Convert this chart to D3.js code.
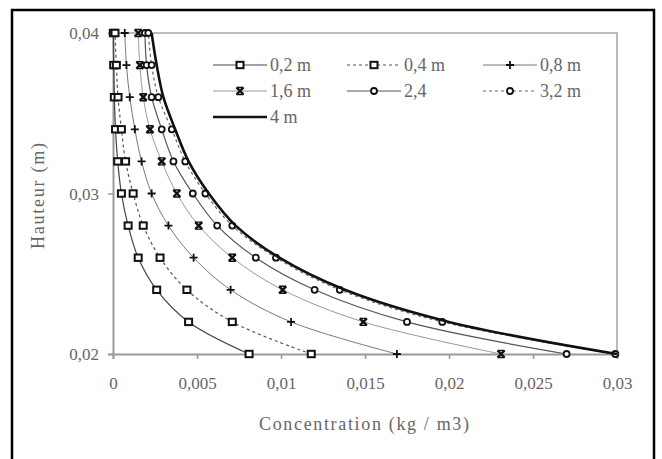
<!DOCTYPE html>
<html>
<head>
<meta charset="utf-8">
<script src="https://cdn.jsdelivr.net/npm/d3@7"></script>
<style>
  html, body { margin: 0; padding: 0; background: #fff; }
  svg { display: block; }
  text { font-family: "Liberation Serif", "Times New Roman", serif; fill: #666; }
</style>
</head>
<body>
<svg id="chart" width="662" height="459"></svg>
<script>
// Heights (m) at which the concentration profiles are sampled
const heights = [0.02, 0.022, 0.024, 0.026, 0.028, 0.030, 0.032, 0.034, 0.036, 0.038, 0.040];

// Concentration (kg/m3) per distance
const c02 = [0.0081, 0.0045, 0.0026, 0.0015, 0.0009, 0.0005, 0.00028, 0.00015, 0.00008, 0.00004, 0.00002];
const c04 = [0.0118, 0.0071, 0.0044, 0.0028, 0.0018, 0.0012, 0.00075, 0.0005, 0.0003, 0.0002, 0.00012];
const c08 = [0.0169, 0.0106, 0.0070, 0.0048, 0.0033, 0.0023, 0.0017, 0.0013, 0.0010, 0.0008, 0.0007];
const c16 = [0.0231, 0.0149, 0.0101, 0.0071, 0.0051, 0.0038, 0.0029, 0.0022, 0.0018, 0.0016, 0.0015];
const c24 = [0.0270, 0.0175, 0.0120, 0.0085, 0.0062, 0.00475, 0.0036, 0.0029, 0.0023, 0.0020, 0.0019];
const c32 = [0.0299, 0.0196, 0.0135, 0.0097, 0.0071, 0.0055, 0.0043, 0.0035, 0.0027, 0.0023, 0.0021];
const c40 = [0.0300, 0.0200, 0.0138, 0.0099, 0.0073, 0.0057, 0.0045, 0.0037, 0.0030, 0.0026, 0.0023];

const seriesLabels = ["0,2 m", "0,4 m", "0,8 m", "1,6 m", "2,4", "3,2 m", "4 m"];
const xTicks = [0, 0.005, 0.01, 0.015, 0.02, 0.025, 0.03];
const xTickLabels = ["0", "0,005", "0,01", "0,015", "0,02", "0,025", "0,03"];
const yTicks = [0.02, 0.03, 0.04];
const yTickLabels = ["0,02", "0,03", "0,04"];

const series = [
  { label: seriesLabels[0], values: c02, color: "#444", width: 1.2, dash: null,  marker: "square" },
  { label: seriesLabels[1], values: c04, color: "#555", width: 1.2, dash: "3,3", marker: "square" },
  { label: seriesLabels[2], values: c08, color: "#777", width: 1,   dash: null,  marker: "plus" },
  { label: seriesLabels[3], values: c16, color: "#999", width: 1,   dash: null,  marker: "cross" },
  { label: seriesLabels[4], values: c24, color: "#555", width: 1.2, dash: null,  marker: "circle" },
  { label: seriesLabels[5], values: c32, color: "#666", width: 1.2, dash: "3,3", marker: "circle" },
  { label: seriesLabels[6], values: c40, color: "#111", width: 2.6, dash: null,  marker: null }
];

const svg = d3.select("#chart");

// outer frame (open at the bottom)
svg.append("path")
  .attr("d", "M12,470 L12,10 L654,10 L654,470")
  .attr("fill", "none").attr("stroke", "#000").attr("stroke-width", 2.5);

const plot = { left: 113, right: 617, top: 33, bottom: 354 };
const x = d3.scaleLinear().domain([0, 0.03]).range([plot.left, plot.right]);
const y = d3.scaleLinear().domain([0.02, 0.04]).range([plot.bottom, plot.top]);

// plot border (top and right)
svg.append("path")
  .attr("d", `M${plot.left},${plot.top} H${plot.right} V${plot.bottom}`)
  .attr("fill", "none").attr("stroke", "#bbb").attr("stroke-width", 2);

// axes
const xAxis = d3.axisBottom(x).tickValues(xTicks).tickSize(5).tickFormat((d, i) => xTickLabels[i]).tickPadding(18);
const yAxis = d3.axisLeft(y).tickValues(yTicks).tickSize(5).tickFormat((d, i) => yTickLabels[i]).tickPadding(9);

const gx = svg.append("g").attr("transform", `translate(0,${plot.bottom})`).call(xAxis);
const gy = svg.append("g").attr("transform", `translate(${plot.left},0)`).call(yAxis);
[gx, gy].forEach(g => {
  g.select(".domain").attr("stroke", "#999").attr("stroke-width", 2);
  g.selectAll(".tick line").attr("stroke", "#999").attr("stroke-width", 1.5);
  g.selectAll(".tick text").attr("font-family", "Liberation Serif, serif").attr("font-size", 17).attr("fill", "#808080");
});
gy.selectAll(".tick text").attr("dy", "0.35em");

// axis titles
svg.append("text")
  .attr("x", 364).attr("y", 430).attr("text-anchor", "middle")
  .attr("font-size", 18).attr("fill", "#707070").attr("textLength", 210).attr("lengthAdjust", "spacing")
  .text("Concentration (kg / m3)");
svg.append("text")
  .attr("transform", "translate(44,196) rotate(-90)").attr("text-anchor", "middle")
  .attr("font-size", 18).attr("fill", "#707070").attr("textLength", 106).attr("lengthAdjust", "spacing")
  .text("Hauteur (m)");

// marker drawing
function drawMarker(g, type, cx, cy) {
  if (type === "square") {
    g.append("rect").attr("x", cx - 3.5).attr("y", cy - 3.2).attr("width", 7).attr("height", 6.4)
      .attr("fill", "#fff").attr("stroke", "#111").attr("stroke-width", 2);
  } else if (type === "plus") {
    g.append("path").attr("d", `M${cx - 4},${cy} H${cx + 4} M${cx},${cy - 4} V${cy + 4}`)
      .attr("stroke", "#111").attr("stroke-width", 1.8);
  } else if (type === "cross") {
    g.append("path").attr("d", `M${cx - 3.5},${cy - 3.5} L${cx + 3.5},${cy + 3.5} M${cx + 3.5},${cy - 3.5} L${cx - 3.5},${cy + 3.5}`)
      .attr("stroke", "#111").attr("stroke-width", 2.4);
    g.append("path").attr("d", `M${cx - 3.5},${cy - 3.5} H${cx + 3.5} M${cx - 3.5},${cy + 3.5} H${cx + 3.5}`)
      .attr("stroke", "#111").attr("stroke-width", 1.4);
  } else if (type === "circle") {
    g.append("circle").attr("cx", cx).attr("cy", cy).attr("r", 3)
      .attr("fill", "#fff").attr("stroke", "#111").attr("stroke-width", 1.8);
  }
}

// curves
const line = d3.line()
  .x(d => x(d[0])).y(d => y(d[1]))
  .curve(d3.curveCatmullRom.alpha(0.5));

const gSeries = svg.append("g");
series.forEach(s => {
  const pts = s.values.map((v, i) => [v, heights[i]]);
  const g = gSeries.append("g");
  g.append("path").attr("d", line(pts))
    .attr("fill", "none").attr("stroke", s.color).attr("stroke-width", s.width)
    .attr("stroke-dasharray", s.dash);
  if (s.marker) pts.forEach(p => drawMarker(g, s.marker, x(p[0]), y(p[1])));
});

// legend
const legendCols = [213, 347, 483];
const legendRows = [65, 91, 117];
const legend = svg.append("g");
series.forEach((s, i) => {
  const lx = legendCols[i % 3], ly = legendRows[Math.floor(i / 3)];
  const g = legend.append("g");
  g.append("line").attr("x1", lx).attr("x2", lx + 54).attr("y1", ly).attr("y2", ly)
    .attr("stroke", s.color).attr("stroke-width", s.width).attr("stroke-dasharray", s.dash);
  if (s.marker) drawMarker(g, s.marker, lx + 27, ly);
  g.append("text").attr("x", lx + 57).attr("y", ly).attr("dy", "0.35em")
    .attr("font-size", 18).attr("fill", "#666").text(s.label);
});
</script>
</body>
</html>
